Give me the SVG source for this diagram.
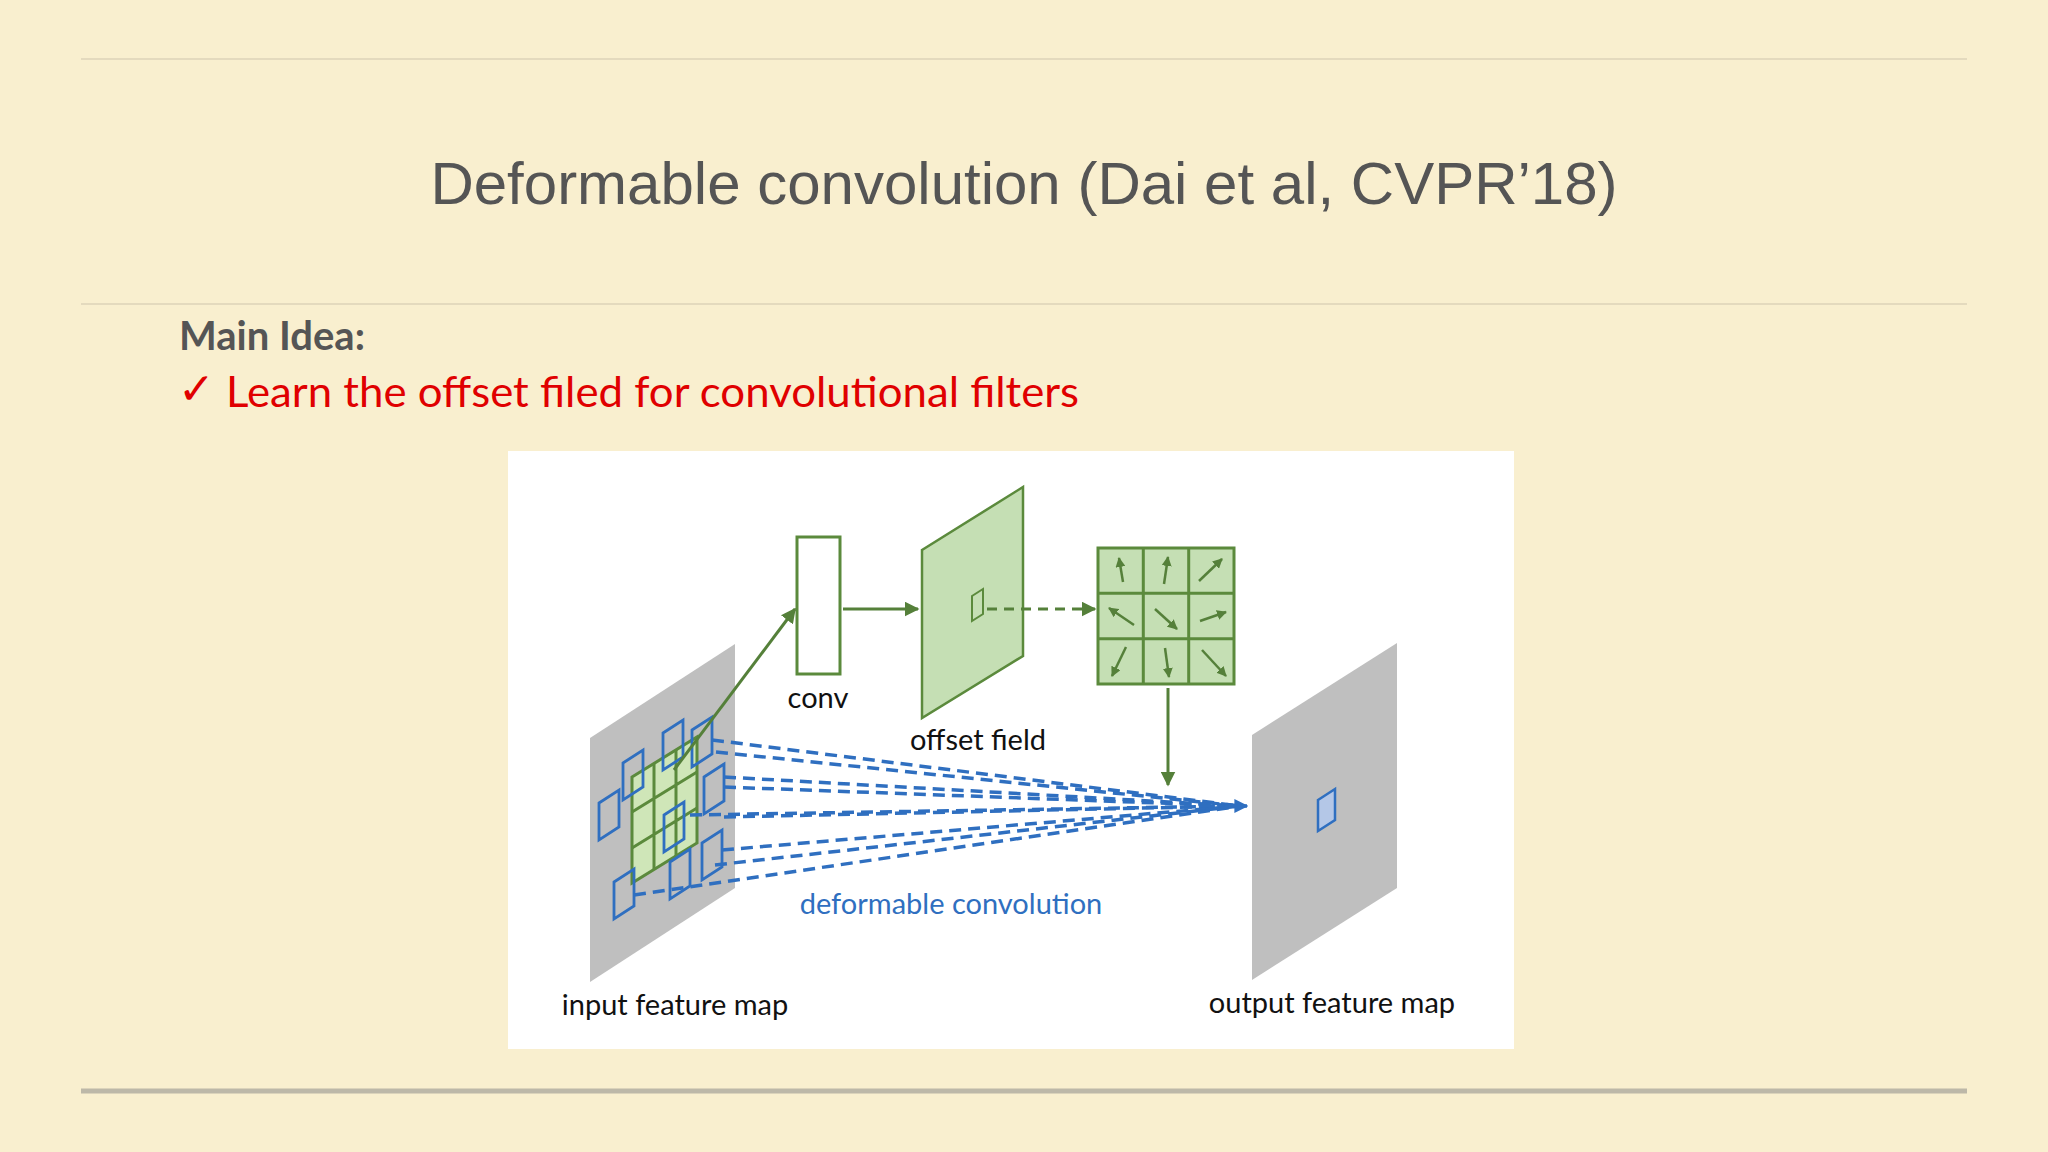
<svg xmlns="http://www.w3.org/2000/svg" width="2048" height="1152" viewBox="0 0 2048 1152">
<defs>
<style>
.lbl{font-family:Lato,"Liberation Sans",sans-serif;font-size:29px;fill:#111;text-anchor:middle}
.g{fill:none;stroke:#5b8a3c;stroke-width:3}
.bsq{fill:none;stroke:#2f6fc0;stroke-width:2.8}
.bd{stroke:#2f6fc0;stroke-width:3.5;stroke-dasharray:12 7;fill:none}
.ga{stroke:#55803a;stroke-width:3;fill:none;marker-end:url(#ah)}
.sa{stroke:#55803a;stroke-width:2.5;fill:none;marker-end:url(#ahs)}
</style>
<marker id="ah" viewBox="0 0 10 10" refX="9" refY="5" markerWidth="5" markerHeight="5" orient="auto"><path d="M0,0L10,5L0,10z" fill="#55803a"/></marker>
<marker id="ahs" viewBox="0 0 10 10" refX="9" refY="5" markerWidth="4" markerHeight="4" orient="auto"><path d="M0,0L10,5L0,10z" fill="#55803a"/></marker>
<marker id="ahb" viewBox="0 0 10 10" refX="9" refY="5" markerWidth="4" markerHeight="4" orient="auto"><path d="M0,0L10,5L0,10z" fill="#2f6fc0"/></marker>
</defs>
<rect width="2048" height="1152" fill="#f9efcf"/>
<line x1="81" y1="59" x2="1967" y2="59" stroke="#ddd3b8" stroke-width="1.5"/>
<line x1="81" y1="304" x2="1967" y2="304" stroke="#ddd3b8" stroke-width="1.5"/>
<line x1="81" y1="1091" x2="1967" y2="1091" stroke="#bdb8a8" stroke-width="5"/>
<text x="1024" y="204" font-family="Liberation Sans,Arial,sans-serif" font-size="60" fill="#555" text-anchor="middle">Deformable convolution (Dai et al, CVPR’18)</text>
<text x="179" y="350" font-family="Lato,'Open Sans',sans-serif" font-weight="bold" font-size="40" fill="#555">Main Idea:</text>
<text x="178" y="404" font-family="'DejaVu Sans',sans-serif" font-weight="bold" font-size="44" fill="#e00000">✓</text>
<text x="226" y="407" font-family="Lato,'Open Sans',sans-serif" font-size="42" fill="#e00000" textLength="853" lengthAdjust="spacingAndGlyphs">Learn the offset filed for convolutional filters</text>
<rect x="508" y="451" width="1006" height="598" fill="#fff"/>
<g id="input">
<polygon points="590,738 735,644 735,888 590,982" fill="#bfbfbf"/>
<polygon points="632,777 697,737 697,843 632,883" fill="#cfe6b8" stroke="#5b8a3c" stroke-width="3"/>
<path class="g" d="M654,764 V870 M676,750 V856 M632,812 L697,772 M632,848 L697,808"/>
<g class="bsq">
<path d="M599,803 l20,-13 v37 l-20,13z"/><path d="M623,763 l20,-13 v37 l-20,13z"/><path d="M663,733 l20,-13 v37 l-20,13z"/>
<path d="M692,730 l20,-13 v37 l-20,13z"/><path d="M704,777 l20,-13 v37 l-20,13z"/><path d="M664,815 l20,-13 v37 l-20,13z"/>
<path d="M702,843 l20,-13 v37 l-20,13z"/><path d="M670,862 l20,-13 v37 l-20,13z"/><path d="M614,882 l20,-13 v37 l-20,13z"/>
</g>
<text class="lbl" x="675" y="1015">input feature map</text>
</g>
<g id="conv"><rect x="797" y="537" width="43" height="137" fill="#fff" stroke="#5b8a3c" stroke-width="3"/><text class="lbl" x="818" y="708">conv</text></g>
<g id="offset"><polygon points="922,550 1023,487 1023,656 922,718" fill="#c5dfb4" stroke="#5b8a3c" stroke-width="2.5"/>
<polygon points="972,596 983,589 983,614 972,621" fill="none" stroke="#5b8a3c" stroke-width="2"/>
<text class="lbl" x="978" y="750">offset field</text></g>
<g id="grid"><rect x="1098" y="548" width="136" height="136" fill="#c5dfb4" stroke="#5b8a3c" stroke-width="3"/>
<path class="g" d="M1143.3,548V684M1188.7,548V684M1098,593.3H1234M1098,638.7H1234"/>
<g class="sa">
<path d="M1123,582 L1119,558"/><path d="M1164,584 L1168,557"/><path d="M1199,581 L1222,559"/>
<path d="M1134,625 L1109,608"/><path d="M1155,609 L1177,629"/><path d="M1200,621 L1226,612"/>
<path d="M1126,647 L1112,676"/><path d="M1165,648 L1169,677"/><path d="M1202,650 L1226,676"/>
</g></g>
<g id="output"><polygon points="1252,735 1397,643 1397,888 1252,980" fill="#bfbfbf"/>
<polygon points="1318,800 1335,789 1335,820 1318,831" fill="#b4c7e7" stroke="#2f6fc0" stroke-width="2.5"/>
<text class="lbl" x="1332" y="1013">output feature map</text></g>
<g id="connectors">
<path class="ga" d="M674,770 L795,609"/>
<path class="ga" d="M843,609 L918,609"/>
<path class="ga" d="M987,609 L1095,609" stroke-dasharray="10 7"/>
<path class="ga" d="M1168,688 L1168,785"/>
<g class="bd">
<path d="M712,740 L1240,806"/><path d="M716,752 L1240,806"/><path d="M724,777 L1240,806"/><path d="M724,787 L1240,806"/>
<path d="M690,815 L1240,806"/><path d="M724,817 L1240,806"/><path d="M722,850 L1240,806"/><path d="M715,865 L1240,806"/><path d="M634,895 L1240,806"/>
</g>
<path d="M1225,806 L1247,806" stroke="#2f6fc0" stroke-width="3.5" marker-end="url(#ahb)"/>
<text x="951" y="914" font-family="Lato,'Liberation Sans',sans-serif" font-size="29" fill="#2f6fc0" text-anchor="middle">deformable convolution</text>
</g>
</svg>
